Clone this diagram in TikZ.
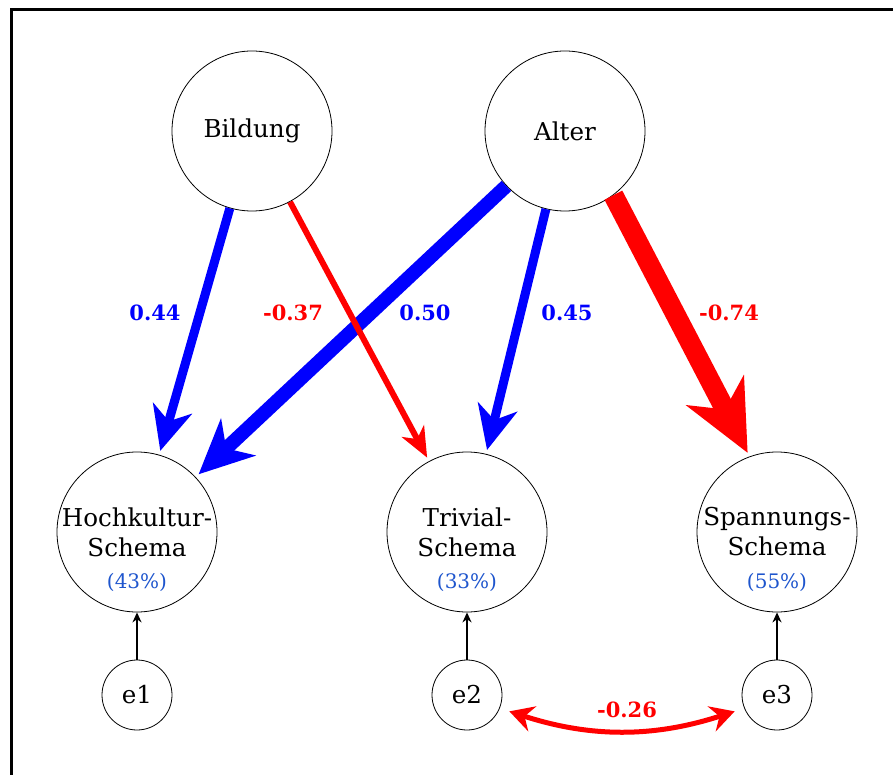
\documentclass[tikz,border=0pt]{standalone}
\usepackage{fontspec}
\setmainfont{DejaVu Serif}
\usetikzlibrary{arrows.meta,calc}

\definecolor{pctblue}{RGB}{30,85,205}

\tikzset{
  latent/.style={circle,draw,thin,minimum size=80pt,inner sep=0pt,align=center,
    font=\fontsize{12.3}{15}\selectfont},
  err/.style={circle,draw,thin,minimum size=35pt,inner sep=0pt,
    font=\fontsize{12.3}{15}\selectfont},
  coef/.style={font=\bfseries\fontsize{10.5}{12}\selectfont},
  pct/.style={text=pctblue,font=\fontsize{10}{12}\selectfont},
  effect/.style n args={3}{line width=#1,shorten >=2pt,
    -{Stealth[length=#2,width=#3,inset=0.3*#2]}},
}

\begin{document}
\begin{tikzpicture}[x=0.5pt,y=-0.5pt]
    \clip (0,0) rectangle (893,775);
    \draw[line width=1.5pt] (11,9.5) rectangle (930,800);

    % predictors
    \node[latent] (bildung) at (252,131) {Bildung};
    \node[latent] (alter) at (565,131) {Alter};

    % schemata
    \node[latent] (hoch) at (137,532) {Hochkultur-\\Schema};
    \node[latent] (triv) at (467,532) {Trivial-\\Schema};
    \node[latent] (spann) at (777,532) {Spannungs-\\Schema};

    \node[pct] (hoch_r) at ([yshift=-25pt]hoch.center) {(43\%)};
    \node[pct] (triv_r) at ([yshift=-25pt]triv.center) {(33\%)};
    \node[pct] (spann_r) at ([yshift=-25pt]spann.center) {(55\%)};

    % residuals
    \foreach \n/\x/\t in {1/137/hoch,2/467/triv,3/777/spann} {
      \node[err] (e\n) at (\x,695) {e\n};
      \draw[line width=1.1pt,-{Stealth[length=5pt,width=4.5pt]}] (e\n) -- (\t);
    }

    % paths
    \begin{scope}[blue]
      \draw[effect={4.5pt}{22pt}{20pt}] (bildung) -- (hoch);
      \draw[effect={7pt}{27pt}{25pt}] (alter) -- (hoch);
      \draw[effect={4.5pt}{22pt}{20pt}] (alter) -- (triv);
    \end{scope}
    \begin{scope}[red]
      \draw[effect={3pt}{15pt}{12.5pt}] (bildung) -- (triv);
      \draw[effect={10pt}{35pt}{32pt}] (alter.-53) -- (spann.110);
      \draw[line width=2.5pt,shorten >=5pt,shorten <=5pt,
        {Stealth[length=12pt,width=13pt,inset=4pt]}-{Stealth[length=12pt,width=13pt,inset=4pt]}]
        (e2.-22) to[bend right=18] (e3.202);
    \end{scope}

    \node[coef,blue] (c_bh) at (155,313) {0.44};
    \node[coef,red] (c_bt) at (293,313) {-0.37};
    \node[coef,blue] (c_ah) at (425,313) {0.50};
    \node[coef,blue] (c_at) at (567,313) {0.45};
    \node[coef,red] (c_as) at (729,313) {-0.74};
    \node[coef,red] (c_e) at (627,710) {-0.26};
\end{tikzpicture}
\end{document}
